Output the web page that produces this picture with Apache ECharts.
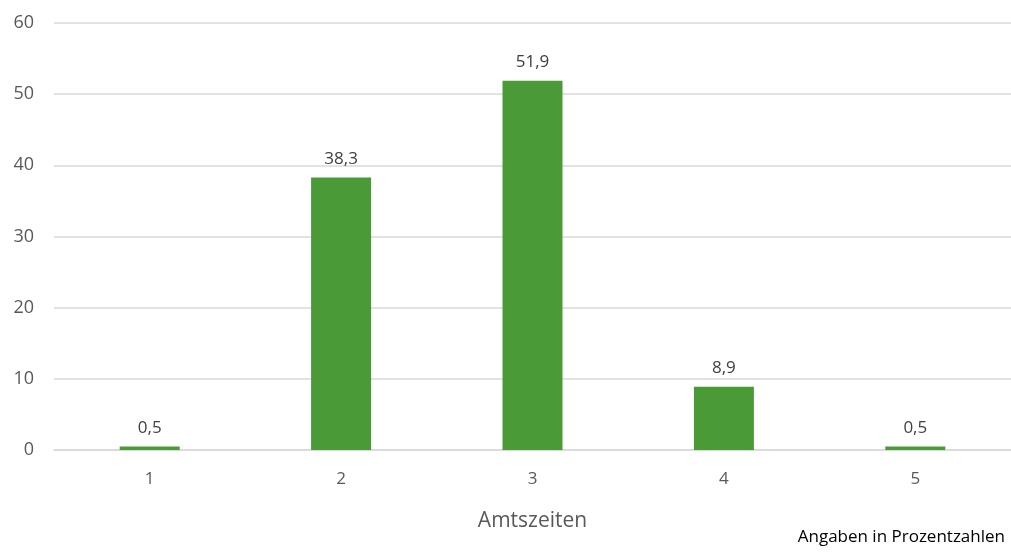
<!DOCTYPE html>
<html><head><meta charset="utf-8">
<script src="https://cdn.jsdelivr.net/npm/echarts@6/dist/echarts.min.js"></script>
<style>html,body{margin:0;padding:0;background:#fff}#c{width:1011px;height:552px}</style>
</head><body><div id="c"></div>
<script>
const categories = ['1','2','3','4','5'];
const values = [0.5, 38.3, 51.9, 8.9, 0.5];
const yTicks = [0,10,20,30,40,50,60];
const FONT = '"Open Sans", "Noto Sans", sans-serif';
const chart = echarts.init(document.getElementById('c'));
chart.setOption({
  animation:false,
  backgroundColor:'#ffffff',
  grid:{left:54,right:0,top:23,bottom:102},
  xAxis:{type:'category',data:categories,
    name:'Amtszeiten',nameLocation:'middle',nameGap:61,
    nameTextStyle:{fontFamily:FONT,fontSize:21,color:'#595959'},
    axisLine:{lineStyle:{color:'#d9d9d9',width:1.5}},axisTick:{show:false},
    axisLabel:{fontFamily:FONT,fontSize:17,color:'#595959',margin:21}},
  yAxis:{type:'value',min:yTicks[0],max:yTicks[yTicks.length-1],interval:10,
    axisLine:{show:false},axisTick:{show:false},
    splitLine:{lineStyle:{color:'#d9d9d9',width:1.5}},
    axisLabel:{fontFamily:FONT,fontSize:18,color:'#595959',margin:20}},
  series:[{type:'bar',data:values,barWidth:60,
    itemStyle:{color:'#4a9a37'},
    label:{show:true,position:'top',distance:10,fontFamily:FONT,fontSize:17,color:'#404040',
      formatter:p=>String(p.value).replace('.',',')}}],
  graphic:[{type:'text',right:6,top:529,style:{text:'Angaben in Prozentzahlen',fontFamily:FONT,fontSize:17,fill:'#000'}}]
});
</script></body></html>
